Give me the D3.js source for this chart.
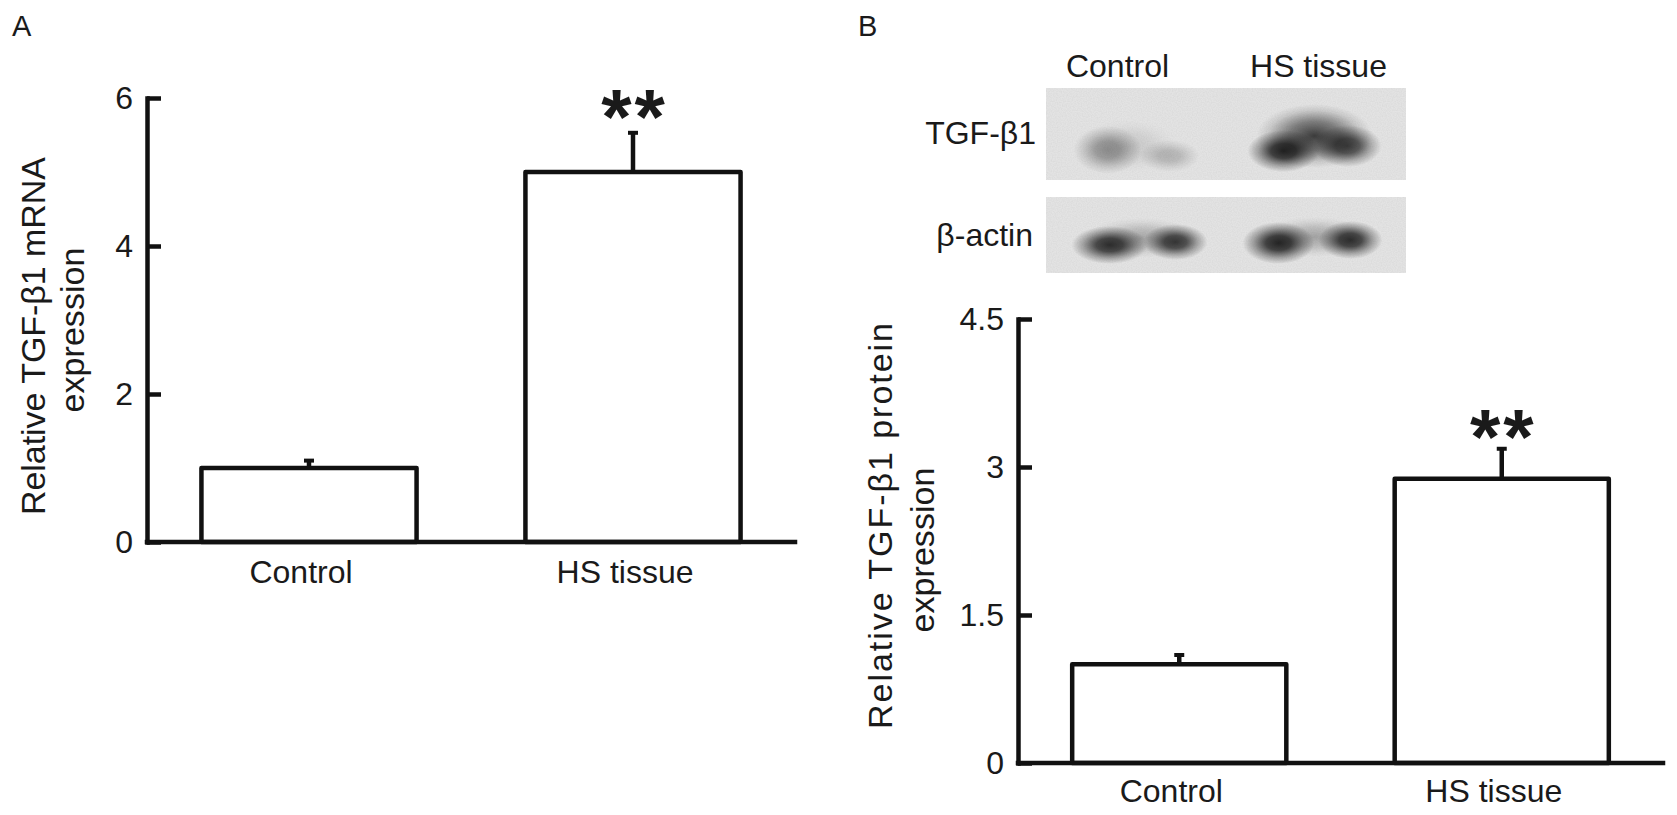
<!DOCTYPE html>
<html>
<head>
<meta charset="utf-8">
<script src="https://cdn.jsdelivr.net/npm/d3@7"></script>
<style>
  html, body { margin: 0; padding: 0; background: #fff; }
  svg { display: block; }
  text { font-family: "Liberation Sans", Arial, Helvetica, sans-serif; fill: #1a1a1a; }
</style>
</head>
<body>
<svg id="chart" width="1677" height="815"></svg>
<script>
// ---------------- DATA ----------------
const categories = ["Control", "HS tissue"];

// Panel A: relative TGF-β1 mRNA expression
const mrnaMean = [1.0, 5.0];
const mrnaErr  = [0.12, 0.55];
const mrnaTicks = [0, 2, 4, 6];
const mrnaSig  = ["", "**"];

// Panel B: relative TGF-β1 protein expression
const protMean = [1.0, 2.88];
const protErr  = [0.11, 0.32];
const protTicks = [0, 1.5, 3, 4.5];
const protSig  = ["", "**"];

// Western blot (relative band darkness, two sub-bands per lane)
const blotRows  = ["TGF-β1", "β-actin"];
const blotLanes = ["Control", "HS tissue"];
const tgfBands   = [[0.4, 0.25], [1.0, 0.82]];
const actinBands = [[0.95, 0.9], [1.0, 0.95]];

// ---------------- LAYOUT ----------------
const svg = d3.select("#chart");
const INK = "#111";
const SW = 4.5;

const defs = svg.append("defs");
const grad = defs.append("radialGradient").attr("id", "blob");
[[0, 1], [35, 0.85], [70, 0.35], [100, 0]].forEach(([o, a]) =>
  grad.append("stop").attr("offset", o + "%").attr("stop-color", "#060606").attr("stop-opacity", a));
const hgrad = defs.append("radialGradient").attr("id", "haze");
[[0, 1], [45, 0.6], [80, 0.15], [100, 0]].forEach(([o, a]) =>
  hgrad.append("stop").attr("offset", o + "%").attr("stop-color", "#0a0a0a").attr("stop-opacity", a));
const grain = defs.append("filter").attr("id", "grain");
grain.append("feTurbulence").attr("type", "fractalNoise").attr("baseFrequency", 0.8).attr("numOctaves", 1).attr("seed", 3).attr("result", "n");
grain.append("feColorMatrix").attr("in", "n").attr("type", "matrix")
  .attr("values", "0 0 0 0 0  0 0 0 0 0  0 0 0 0 0  0 0 0 0.07 0").attr("result", "a");
grain.append("feComposite").attr("in", "a").attr("in2", "SourceGraphic").attr("operator", "in");

function panel(cfg) {
  const g = svg.append("g");
  const x = d3.scaleBand().domain(categories).range([cfg.x0, cfg.x1])
    .paddingInner(0.336).paddingOuter(0.168);
  const y = d3.scaleLinear().domain([0, cfg.max]).range([cfg.y0, cfg.y1]);
  const cx = i => x(categories[i]) + x.bandwidth() / 2;

  // bars
  g.selectAll("rect.bar").data(cfg.mean).join("rect")
    .attr("class", "bar")
    .attr("x", (d, i) => x(categories[i]))
    .attr("width", x.bandwidth())
    .attr("y", d => y(d))
    .attr("height", d => y(0) - y(d))
    .attr("fill", "#fff").attr("stroke", INK).attr("stroke-width", SW)
    .attr("stroke-linejoin", "round");

  // error bars
  g.selectAll("line.err").data(cfg.mean).join("line")
    .attr("class", "err")
    .attr("x1", (d, i) => cx(i)).attr("x2", (d, i) => cx(i))
    .attr("y1", d => y(d))
    .attr("y2", (d, i) => y(d + cfg.err[i]))
    .attr("stroke", INK).attr("stroke-width", SW);
  g.selectAll("line.cap").data(cfg.mean).join("line")
    .attr("class", "cap")
    .attr("x1", (d, i) => cx(i) - 5).attr("x2", (d, i) => cx(i) + 5)
    .attr("y1", (d, i) => y(d + cfg.err[i]) + 1.5)
    .attr("y2", (d, i) => y(d + cfg.err[i]) + 1.5)
    .attr("stroke", INK).attr("stroke-width", 4);

  // significance
  const LS = 3;
  g.selectAll("text.sig").data(cfg.mean).join("text")
    .attr("class", "sig")
    .attr("x", (d, i) => cx(i) + LS / 2)
    .attr("y", (d, i) => y(d + cfg.err[i]) + cfg.sigDy)
    .attr("text-anchor", "middle")
    .attr("font-size", 78).attr("font-weight", "bold")
    .attr("letter-spacing", LS)
    .text((d, i) => cfg.sig[i]);

  // y axis
  const ay = g.append("g").attr("transform", `translate(${cfg.x0},0)`)
    .call(d3.axisLeft(y).tickValues(cfg.ticks).tickSizeInner(-14).tickSizeOuter(0)
      .tickPadding(14).tickFormat(d3.format("~g")));
  ay.select(".domain").attr("stroke", INK).attr("stroke-width", SW).attr("stroke-linecap", "square");
  ay.selectAll(".tick line").attr("stroke", INK).attr("stroke-width", SW);
  ay.selectAll(".tick text").attr("font-size", 32).attr("fill", "#1a1a1a")
    .attr("font-family", "Liberation Sans, Arial, sans-serif");

  // x axis line
  g.append("line").attr("x1", cfg.x0).attr("x2", cfg.x1)
    .attr("y1", y(0)).attr("y2", y(0))
    .attr("stroke", INK).attr("stroke-width", SW).attr("stroke-linecap", "square");

  // category labels
  g.selectAll("text.cat").data(categories).join("text")
    .attr("class", "cat")
    .attr("x", d => x(d) + x.bandwidth() / 2 - 8)
    .attr("y", cfg.catY)
    .attr("text-anchor", "middle").attr("font-size", 32)
    .text(d => d);

  // y title
  cfg.title.forEach(t => {
    g.append("text")
      .attr("transform", `translate(${t.bx},${t.cy}) rotate(-90)`)
      .attr("text-anchor", "middle").attr("font-size", 34)
      .attr("textLength", t.len).attr("lengthAdjust", "spacing")
      .text(t.s);
  });
  return { x, y };
}

// Panel A
svg.append("text").attr("x", 12).attr("y", 36).attr("font-size", 29).text("A");
panel({
  x0: 147, x1: 795, y0: 542, y1: 98, max: 6,
  mean: mrnaMean, err: mrnaErr, sig: mrnaSig, ticks: mrnaTicks,
  sigDy: 13, catY: 583,
  title: [{ s: "Relative TGF-β1 mRNA", bx: 45, cy: 336, len: 358 },
          { s: "expression", bx: 84, cy: 330, len: 165 }]
});

// Panel B
svg.append("text").attr("x", 858).attr("y", 36).attr("font-size", 29).text("B");
panel({
  x0: 1018, x1: 1663, y0: 763, y1: 319, max: 4.5,
  mean: protMean, err: protErr, sig: protSig, ticks: protTicks,
  sigDy: 17, catY: 802,
  title: [{ s: "Relative TGF-β1 protein", bx: 892, cy: 526, len: 406 },
          { s: "expression", bx: 934, cy: 550, len: 165 }]
});

// ---------------- Western blot ----------------
const blot = svg.append("g");
const laneX = d3.scalePoint().domain(blotLanes).range([1046, 1406]).padding(0.517);
const rowBox = [
  { y0: 88, y1: 180 },
  { y0: 197, y1: 273 }
];
const rowLabelY = [144, 246];
const rowLabelX = [1036, 1033];

blot.selectAll("text.lane").data(blotLanes).join("text")
  .attr("class", "lane")
  .attr("x", (d, i) => laneX(d) + (i === 0 ? -20 : 4))
  .attr("y", 77).attr("text-anchor", "middle").attr("font-size", 32)
  .text(d => d);

blot.selectAll("text.row").data(blotRows).join("text")
  .attr("class", "row")
  .attr("x", (d, i) => rowLabelX[i]).attr("y", (d, i) => rowLabelY[i])
  .attr("text-anchor", "end").attr("font-size", 32)
  .text(d => d);

rowBox.forEach(b => {
  blot.append("rect").attr("x", 1046).attr("y", b.y0)
    .attr("width", 360).attr("height", b.y1 - b.y0).attr("fill", "#e8e8e8");
  blot.append("rect").attr("x", 1046).attr("y", b.y0)
    .attr("width", 360).attr("height", b.y1 - b.y0).attr("fill", "#e8e8e8")
    .attr("filter", "url(#grain)");
});

// band geometry (layout only): per row, per lane -> haze + two cores
const bandShape = [
  [ // TGF-β1
    { haze: { dx: -10, cy: 146, rx: 50, ry: 26, k: 0.4 },
      cores: [{ dx: -30, cy: 150, rx: 34, ry: 24 }, { dx: 32, cy: 156, rx: 30, ry: 16 }] },
    { haze: { dx: 0, cy: 136, rx: 58, ry: 32, k: 0.85 },
      cores: [{ dx: -31, cy: 151, rx: 36, ry: 21 }, { dx: 33, cy: 146, rx: 34, ry: 21 }] }
  ],
  [ // β-actin
    { haze: { dx: 4, cy: 238, rx: 56, ry: 20, k: 0.3 },
      cores: [{ dx: -28, cy: 245, rx: 38, ry: 19 }, { dx: 38, cy: 242, rx: 32, ry: 18 }] },
    { haze: { dx: 0, cy: 237, rx: 56, ry: 20, k: 0.3 },
      cores: [{ dx: -36, cy: 243, rx: 36, ry: 21 }, { dx: 36, cy: 240, rx: 32, ry: 19 }] }
  ]
];
const bandData = [tgfBands, actinBands];
const clip = defs.selectAll("clipPath").data(rowBox).join("clipPath")
  .attr("id", (d, i) => "rowclip" + i);
clip.append("rect").attr("x", 1046).attr("y", d => d.y0).attr("width", 360).attr("height", d => d.y1 - d.y0);

bandData.forEach((row, r) => {
  const gr = blot.append("g").attr("clip-path", `url(#rowclip${r})`);
  row.forEach((lane, l) => {
    const shp = bandShape[r][l];
    const c = laneX(blotLanes[l]);
    gr.append("ellipse")
      .attr("cx", c + shp.haze.dx).attr("cy", shp.haze.cy)
      .attr("rx", shp.haze.rx).attr("ry", shp.haze.ry)
      .attr("fill", "url(#haze)").attr("fill-opacity", d3.mean(lane) * shp.haze.k);
    lane.forEach((v, s) => {
      const sh = shp.cores[s];
      gr.append("ellipse")
        .attr("cx", c + sh.dx).attr("cy", sh.cy)
        .attr("rx", sh.rx).attr("ry", sh.ry)
        .attr("fill", "url(#blob)").attr("fill-opacity", v * 0.85);
    });
  });
});
</script>
</body>
</html>
